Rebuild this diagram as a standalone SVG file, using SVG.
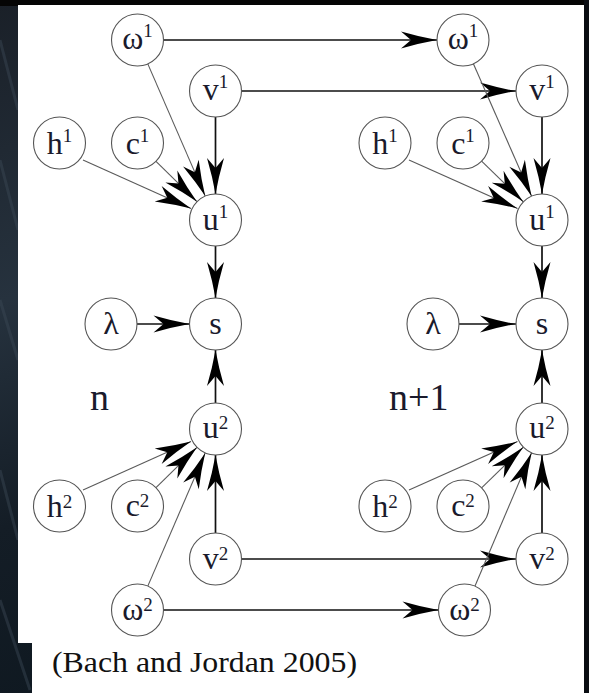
<svg xmlns="http://www.w3.org/2000/svg" width="589" height="693" viewBox="0 0 589 693">
<defs>
<linearGradient id="bg" x1="0" y1="0" x2="0.3" y2="1">
<stop offset="0" stop-color="#1a2028"/>
<stop offset="0.4" stop-color="#26323e"/>
<stop offset="0.7" stop-color="#141d26"/>
<stop offset="1" stop-color="#0e1820"/>
</linearGradient>
<marker id="ah" markerUnits="userSpaceOnUse" viewBox="-38 -10 40 20" refX="0" refY="0" markerWidth="40" markerHeight="20" orient="auto">
<path d="M0,0 Q-17,-3 -36,-8.5 L-26,0 L-36,8.5 Q-17,3 0,0 Z" fill="#000"/>
</marker>
<style>
.nd circle{fill:#fff;stroke:#555;stroke-width:1.1}
.nd text{font-family:"Liberation Serif","Times New Roman",serif;font-size:32px;fill:#1a1a2c;text-anchor:middle}
.nd .sp{font-size:19px}
.thick{stroke:#111;stroke-width:1.7;fill:none;marker-end:url(#ah)}
.thin{stroke:#5a5a5a;stroke-width:1.1;fill:none;marker-end:url(#ah)}
.lbl{font-family:"Liberation Serif","Times New Roman",serif;font-size:38px;fill:#1a1a2c}
</style>
</defs>
<rect x="0" y="0" width="589" height="693" fill="url(#bg)"/>
<rect x="0" y="0" width="589" height="6" fill="#050505"/>
<g stroke="#3c4956" stroke-width="3" opacity="0.45">
<line x1="0" y1="40" x2="18" y2="110"/>
<line x1="0" y1="160" x2="18" y2="230"/>
<line x1="0" y1="300" x2="18" y2="360"/>
<line x1="0" y1="470" x2="18" y2="540"/>
<line x1="0" y1="600" x2="30" y2="690"/>
</g>
<rect x="584" y="0" width="5" height="693" fill="#0a0d12"/>
<rect x="18" y="5" width="566" height="638" fill="#fff"/>
<rect x="32" y="643" width="552" height="50" fill="#fff"/>

<g id="connectors">
<line class="thick" x1="163.5" y1="40" x2="437" y2="40"/>
<line class="thick" x1="241.5" y1="91" x2="516" y2="91"/>
<line class="thick" x1="241.5" y1="559" x2="516" y2="559"/>
<line class="thick" x1="163.5" y1="610" x2="438.5" y2="610"/>

<line class="thick" x1="215.5" y1="117" x2="215.5" y2="194"/>
<line class="thick" x1="215.5" y1="246" x2="215.5" y2="298"/>
<line class="thick" x1="137" y1="324" x2="189.5" y2="324"/>
<line class="thick" x1="215.5" y1="403" x2="215.5" y2="350"/>
<line class="thick" x1="215.5" y1="533" x2="215.5" y2="455"/>
<line class="thin" x1="147.8" y1="63.9" x2="205.2" y2="196.1"/>
<line class="thin" x1="83" y1="160" x2="191" y2="208.5"/>
<line class="thin" x1="156" y1="161.3" x2="197" y2="201.7"/>
<line class="thin" x1="83" y1="490" x2="191" y2="441.5"/>
<line class="thin" x1="156" y1="487.7" x2="197" y2="447.3"/>
<line class="thin" x1="147.8" y1="586.1" x2="205.2" y2="452.9"/>

<line class="thick" x1="542" y1="117" x2="542" y2="194"/>
<line class="thick" x1="542" y1="246" x2="542" y2="298"/>
<line class="thick" x1="459" y1="324" x2="516" y2="324"/>
<line class="thick" x1="542" y1="403" x2="542" y2="350"/>
<line class="thick" x1="542" y1="533" x2="542" y2="455"/>
<line class="thin" x1="473.4" y1="63.8" x2="531.6" y2="196.2"/>
<line class="thin" x1="409" y1="160" x2="517.5" y2="208.5"/>
<line class="thin" x1="481.6" y1="161.1" x2="523.4" y2="201.9"/>
<line class="thin" x1="409" y1="490" x2="517.5" y2="441.5"/>
<line class="thin" x1="481.6" y1="487.9" x2="523.4" y2="447.1"/>
<line class="thin" x1="474.9" y1="586.2" x2="531.6" y2="452.8"/>
</g>

<g id="omega1-n" class="nd"><circle cx="137.5" cy="40" r="26"/><text x="137.5" y="49">ω<tspan class="sp" dy="-12">1</tspan></text></g>
<g id="v1-n" class="nd"><circle cx="215.5" cy="91" r="26"/><text x="215.5" y="100">v<tspan class="sp" dy="-12">1</tspan></text></g>
<g id="h1-n" class="nd"><circle cx="59.5" cy="143" r="26"/><text x="59.5" y="154">h<tspan class="sp" dy="-12">1</tspan></text></g>
<g id="c1-n" class="nd"><circle cx="137.5" cy="143" r="26"/><text x="137.5" y="154">c<tspan class="sp" dy="-12">1</tspan></text></g>
<g id="u1-n" class="nd"><circle cx="215.5" cy="220" r="26"/><text x="215.5" y="230">u<tspan class="sp" dy="-12">1</tspan></text></g>
<g id="lambda-n" class="nd"><circle cx="111" cy="324" r="26"/><text x="111" y="334">λ</text></g>
<g id="s-n" class="nd"><circle cx="215.5" cy="324" r="26"/><text x="215.5" y="334">s</text></g>
<g id="u2-n" class="nd"><circle cx="215.5" cy="429" r="26"/><text x="215.5" y="438">u<tspan class="sp" dy="-9">2</tspan></text></g>
<g id="h2-n" class="nd"><circle cx="59.5" cy="506" r="26"/><text x="59.5" y="517">h<tspan class="sp" dy="-9">2</tspan></text></g>
<g id="c2-n" class="nd"><circle cx="137.5" cy="506" r="26"/><text x="137.5" y="516">c<tspan class="sp" dy="-9">2</tspan></text></g>
<g id="v2-n" class="nd"><circle cx="215.5" cy="559" r="26"/><text x="215.5" y="569">v<tspan class="sp" dy="-9">2</tspan></text></g>
<g id="omega2-n" class="nd"><circle cx="137.5" cy="610" r="26"/><text x="137.5" y="620">ω<tspan class="sp" dy="-9">2</tspan></text></g>

<g id="omega1-n1" class="nd"><circle cx="463" cy="40" r="26"/><text x="463" y="49">ω<tspan class="sp" dy="-12">1</tspan></text></g>
<g id="v1-n1" class="nd"><circle cx="542" cy="91" r="26"/><text x="542" y="100">v<tspan class="sp" dy="-12">1</tspan></text></g>
<g id="h1-n1" class="nd"><circle cx="385" cy="143" r="26"/><text x="385" y="154">h<tspan class="sp" dy="-12">1</tspan></text></g>
<g id="c1-n1" class="nd"><circle cx="463" cy="143" r="26"/><text x="463" y="154">c<tspan class="sp" dy="-12">1</tspan></text></g>
<g id="u1-n1" class="nd"><circle cx="542" cy="220" r="26"/><text x="542" y="230">u<tspan class="sp" dy="-12">1</tspan></text></g>
<g id="lambda-n1" class="nd"><circle cx="433" cy="324" r="26"/><text x="433" y="334">λ</text></g>
<g id="s-n1" class="nd"><circle cx="542" cy="324" r="26"/><text x="542" y="334">s</text></g>
<g id="u2-n1" class="nd"><circle cx="542" cy="429" r="26"/><text x="542" y="438">u<tspan class="sp" dy="-9">2</tspan></text></g>
<g id="h2-n1" class="nd"><circle cx="385" cy="506" r="26"/><text x="385" y="517">h<tspan class="sp" dy="-9">2</tspan></text></g>
<g id="c2-n1" class="nd"><circle cx="463" cy="506" r="26"/><text x="463" y="516">c<tspan class="sp" dy="-9">2</tspan></text></g>
<g id="v2-n1" class="nd"><circle cx="542" cy="559" r="26"/><text x="542" y="569">v<tspan class="sp" dy="-9">2</tspan></text></g>
<g id="omega2-n1" class="nd"><circle cx="464.5" cy="610" r="26"/><text x="464.5" y="620">ω<tspan class="sp" dy="-9">2</tspan></text></g>

<text class="lbl" x="90" y="410">n</text>
<text class="lbl" x="389" y="410">n+1</text>
<text x="52" y="672" font-family="'Liberation Serif','Times New Roman',serif" font-size="30" fill="#111" textLength="305" lengthAdjust="spacingAndGlyphs">(Bach and Jordan 2005)</text>
</svg>
